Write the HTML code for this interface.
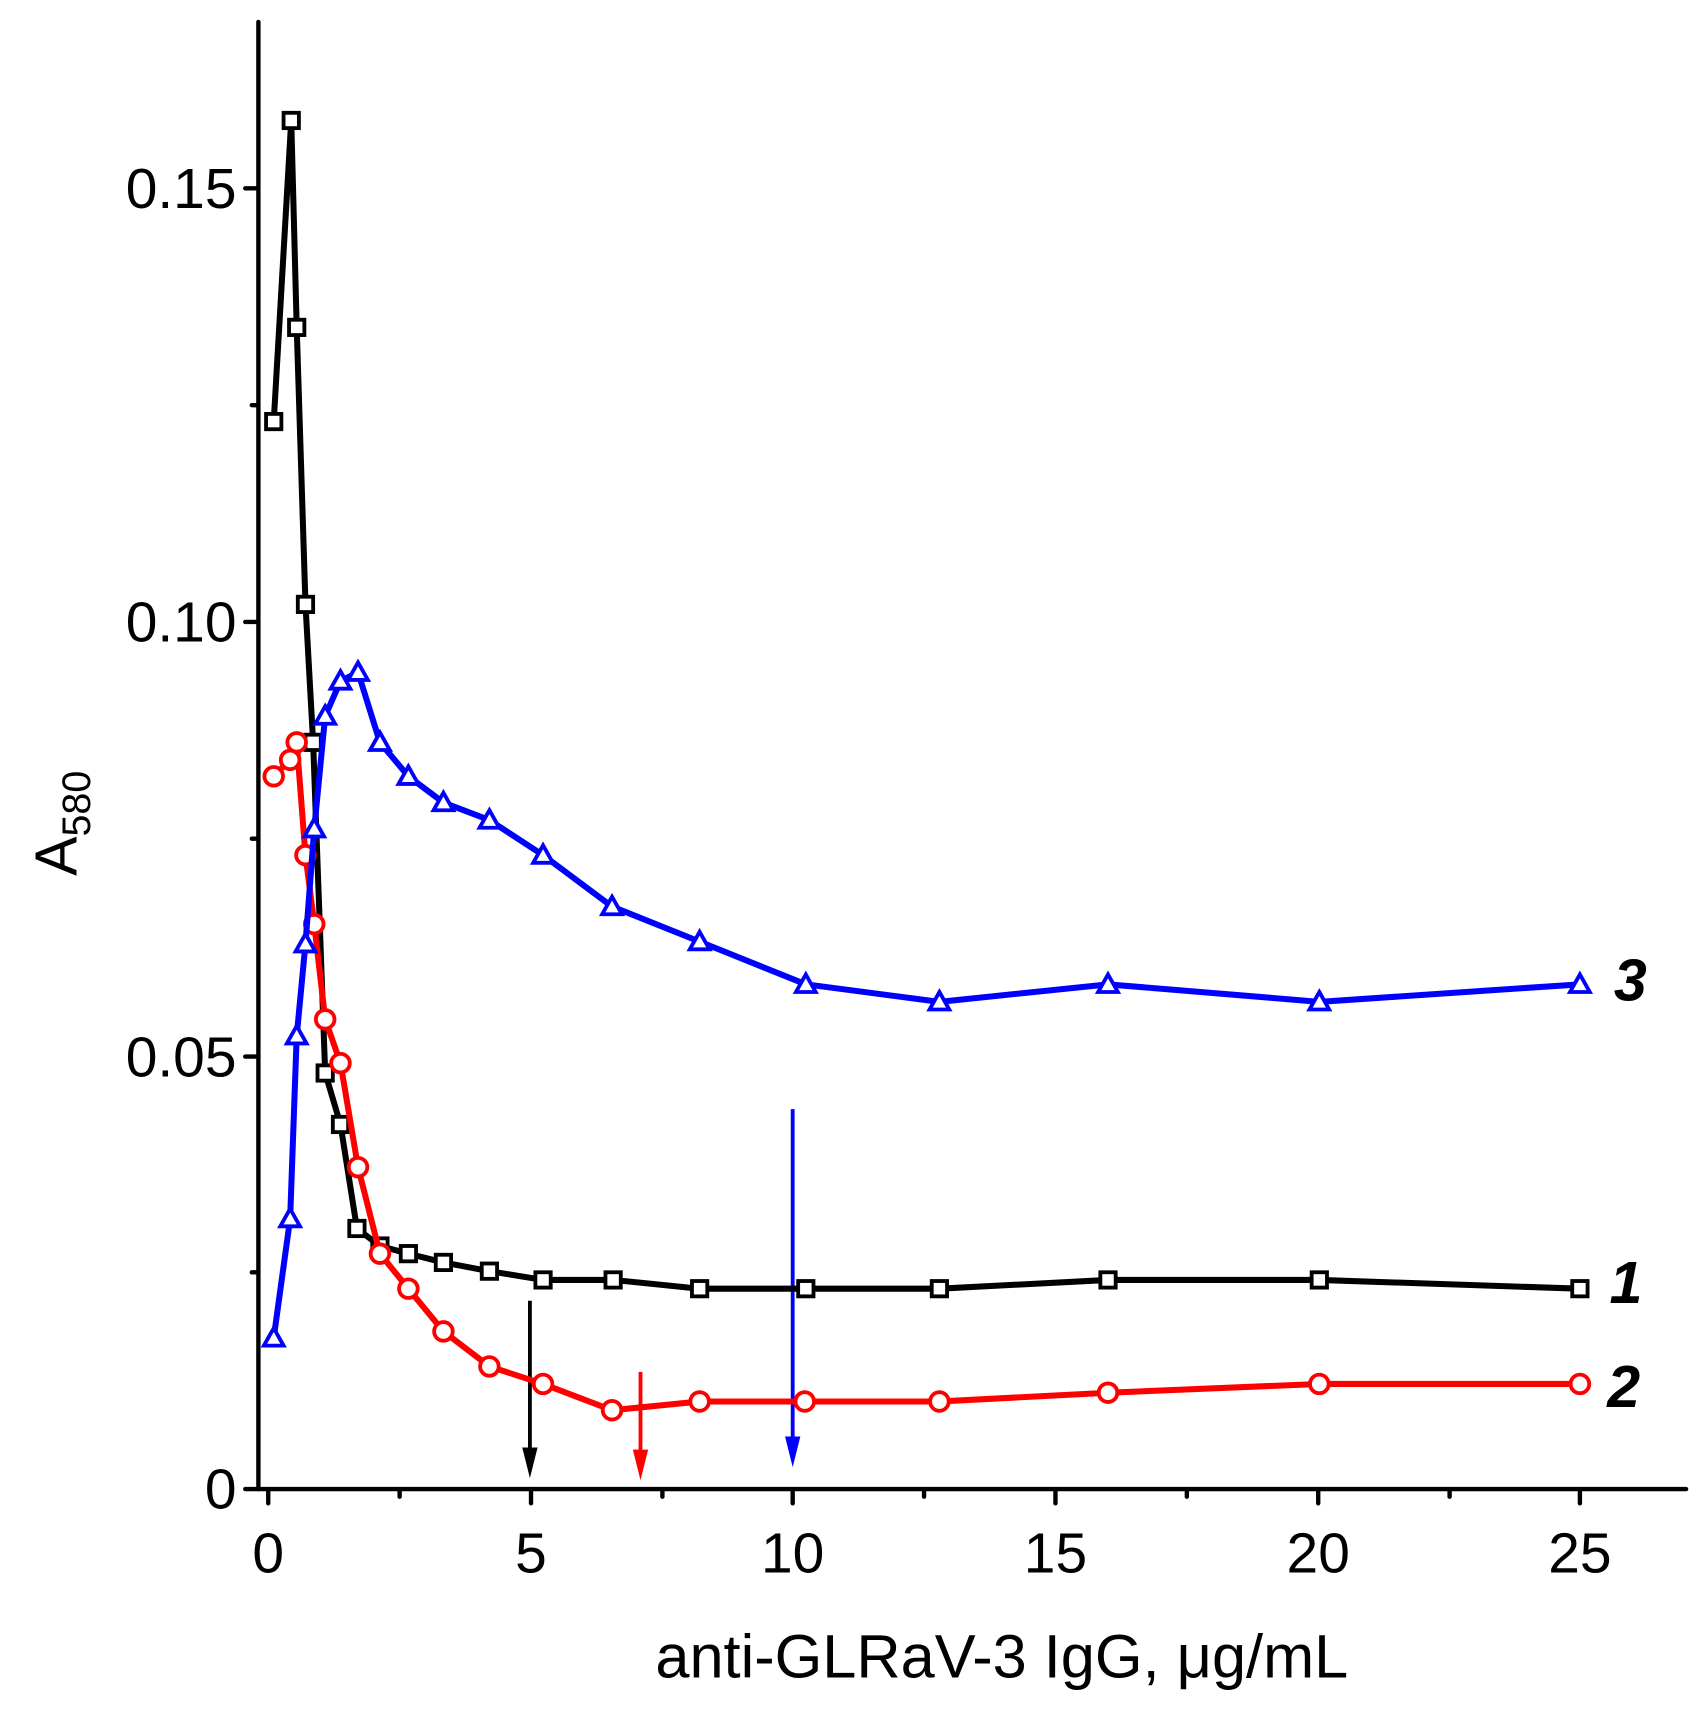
<!DOCTYPE html>
<html><head><meta charset="utf-8"><style>html,body{margin:0;padding:0;background:#fff}svg{display:block}</style></head><body>
<svg width="1708" height="1712" viewBox="0 0 1560 1563.6" xmlns="http://www.w3.org/2000/svg" font-family="Liberation Sans, Arial, sans-serif">
<g stroke="#000" stroke-width="4" stroke-linecap="round" fill="none">
<line x1="236" y1="20" x2="236" y2="1360"/>
<line x1="236" y1="1360" x2="1540" y2="1360"/>
<line x1="224" y1="1360" x2="236" y2="1360"/>
<line x1="224" y1="965" x2="236" y2="965"/>
<line x1="224" y1="568" x2="236" y2="568"/>
<line x1="224" y1="172" x2="236" y2="172"/>
<line x1="230" y1="1162" x2="236" y2="1162"/>
<line x1="230" y1="766" x2="236" y2="766"/>
<line x1="230" y1="370" x2="236" y2="370"/>
<line x1="245" y1="1360" x2="245" y2="1373"/>
<line x1="485" y1="1360" x2="485" y2="1373"/>
<line x1="724" y1="1360" x2="724" y2="1373"/>
<line x1="964" y1="1360" x2="964" y2="1373"/>
<line x1="1204" y1="1360" x2="1204" y2="1373"/>
<line x1="1443" y1="1360" x2="1443" y2="1373"/>
<line x1="365" y1="1360" x2="365" y2="1367"/>
<line x1="605" y1="1360" x2="605" y2="1367"/>
<line x1="844" y1="1360" x2="844" y2="1367"/>
<line x1="1084" y1="1360" x2="1084" y2="1367"/>
<line x1="1324" y1="1360" x2="1324" y2="1367"/>
</g>
<g font-size="52" fill="#000" text-anchor="end">
<text x="216" y="1378">0</text>
<text x="216" y="983">0.05</text>
<text x="216" y="586">0.10</text>
<text x="216" y="190">0.15</text>
</g>
<g font-size="52" fill="#000" text-anchor="middle">
<text x="245" y="1436">0</text><text x="485" y="1436">5</text><text x="724" y="1436">10</text>
<text x="964" y="1436">15</text><text x="1204" y="1436">20</text><text x="1443" y="1436">25</text>
<text x="915" y="1532" font-size="56">anti-GLRaV-3 IgG, μg/mL</text>
</g>
<text transform="translate(70,800) rotate(-90)" font-size="54" fill="#000">A<tspan font-size="36" dy="12">580</tspan></text>
<g stroke-width="3.5">
<line x1="484" y1="1188" x2="484" y2="1330" stroke="#000"/><polygon points="477,1322 491,1322 484,1350" fill="#000"/>
<line x1="585" y1="1253" x2="585" y2="1332" stroke="#f00"/><polygon points="578,1324 592,1324 585,1352" fill="#f00"/>
<line x1="724" y1="1013" x2="724" y2="1320" stroke="#00f"/><polygon points="717,1312 731,1312 724,1340" fill="#00f"/>
</g>
<polyline fill="none" stroke="#000" stroke-width="5.5" stroke-linejoin="round" points="250,385 266,110 271,299 279,552 286,678 297,980 311,1027 326,1122 347,1138 373,1145 405,1153 447,1161 496,1169 560,1169 639,1177 736,1177 858,1177 1012,1169 1205,1169 1443,1177"/>
<g fill="#fff" stroke="#000" stroke-width="3.5">
<rect x="243" y="378" width="14" height="14"/><rect x="259" y="103" width="14" height="14"/><rect x="264" y="292" width="14" height="14"/><rect x="272" y="545" width="14" height="14"/><rect x="279" y="671" width="14" height="14"/><rect x="290" y="973" width="14" height="14"/><rect x="304" y="1020" width="14" height="14"/><rect x="319" y="1115" width="14" height="14"/><rect x="340" y="1131" width="14" height="14"/><rect x="366" y="1138" width="14" height="14"/><rect x="398" y="1146" width="14" height="14"/><rect x="440" y="1154" width="14" height="14"/><rect x="489" y="1162" width="14" height="14"/><rect x="553" y="1162" width="14" height="14"/><rect x="632" y="1170" width="14" height="14"/><rect x="729" y="1170" width="14" height="14"/><rect x="851" y="1170" width="14" height="14"/><rect x="1005" y="1162" width="14" height="14"/><rect x="1198" y="1162" width="14" height="14"/><rect x="1436" y="1170" width="14" height="14"/>
</g>
<polyline fill="none" stroke="#f00" stroke-width="5.5" stroke-linejoin="round" points="250,709 265,694 271,678 279,781 287,844 297,931 311,971 327,1066 347,1145 373,1177 405,1216 447,1248 496,1264 559,1288 639,1280 735,1280 858,1280 1012,1272 1205,1264 1443,1264"/>
<g fill="#fff" stroke="#f00" stroke-width="3.5">
<circle cx="250" cy="709" r="8.5"/><circle cx="265" cy="694" r="8.5"/><circle cx="271" cy="678" r="8.5"/><circle cx="279" cy="781" r="8.5"/><circle cx="287" cy="844" r="8.5"/><circle cx="297" cy="931" r="8.5"/><circle cx="311" cy="971" r="8.5"/><circle cx="327" cy="1066" r="8.5"/><circle cx="347" cy="1145" r="8.5"/><circle cx="373" cy="1177" r="8.5"/><circle cx="405" cy="1216" r="8.5"/><circle cx="447" cy="1248" r="8.5"/><circle cx="496" cy="1264" r="8.5"/><circle cx="559" cy="1288" r="8.5"/><circle cx="639" cy="1280" r="8.5"/><circle cx="735" cy="1280" r="8.5"/><circle cx="858" cy="1280" r="8.5"/><circle cx="1012" cy="1272" r="8.5"/><circle cx="1205" cy="1264" r="8.5"/><circle cx="1443" cy="1264" r="8.5"/>
</g>
<polyline fill="none" stroke="#00f" stroke-width="5.5" stroke-linejoin="round" points="250,1222 265,1113 271,946 279,862 287,757 297,654 311,622 327,614 347,678 373,709 405,733 447,749 496,781 559,828 639,860 736,899 858,915 1012,899 1205,915 1443,899"/>
<g fill="#fff" stroke="#00f" stroke-width="3.5">
<polygon points="250,1213 259,1229 241,1229"/><polygon points="265,1104 274,1120 256,1120"/><polygon points="271,937 280,953 262,953"/><polygon points="279,853 288,869 270,869"/><polygon points="287,748 296,764 278,764"/><polygon points="297,645 306,661 288,661"/><polygon points="311,613 320,629 302,629"/><polygon points="327,605 336,621 318,621"/><polygon points="347,669 356,685 338,685"/><polygon points="373,700 382,716 364,716"/><polygon points="405,724 414,740 396,740"/><polygon points="447,740 456,756 438,756"/><polygon points="496,772 505,788 487,788"/><polygon points="559,819 568,835 550,835"/><polygon points="639,851 648,867 630,867"/><polygon points="736,890 745,906 727,906"/><polygon points="858,906 867,922 849,922"/><polygon points="1012,890 1021,906 1003,906"/><polygon points="1205,906 1214,922 1196,922"/><polygon points="1443,890 1452,906 1434,906"/>
</g>
<g font-size="54" font-weight="bold" font-style="italic" fill="#000">
<text x="1474" y="914">3</text>
<text x="1470" y="1190">1</text>
<text x="1468" y="1285">2</text>
</g>
</svg>
</body></html>
